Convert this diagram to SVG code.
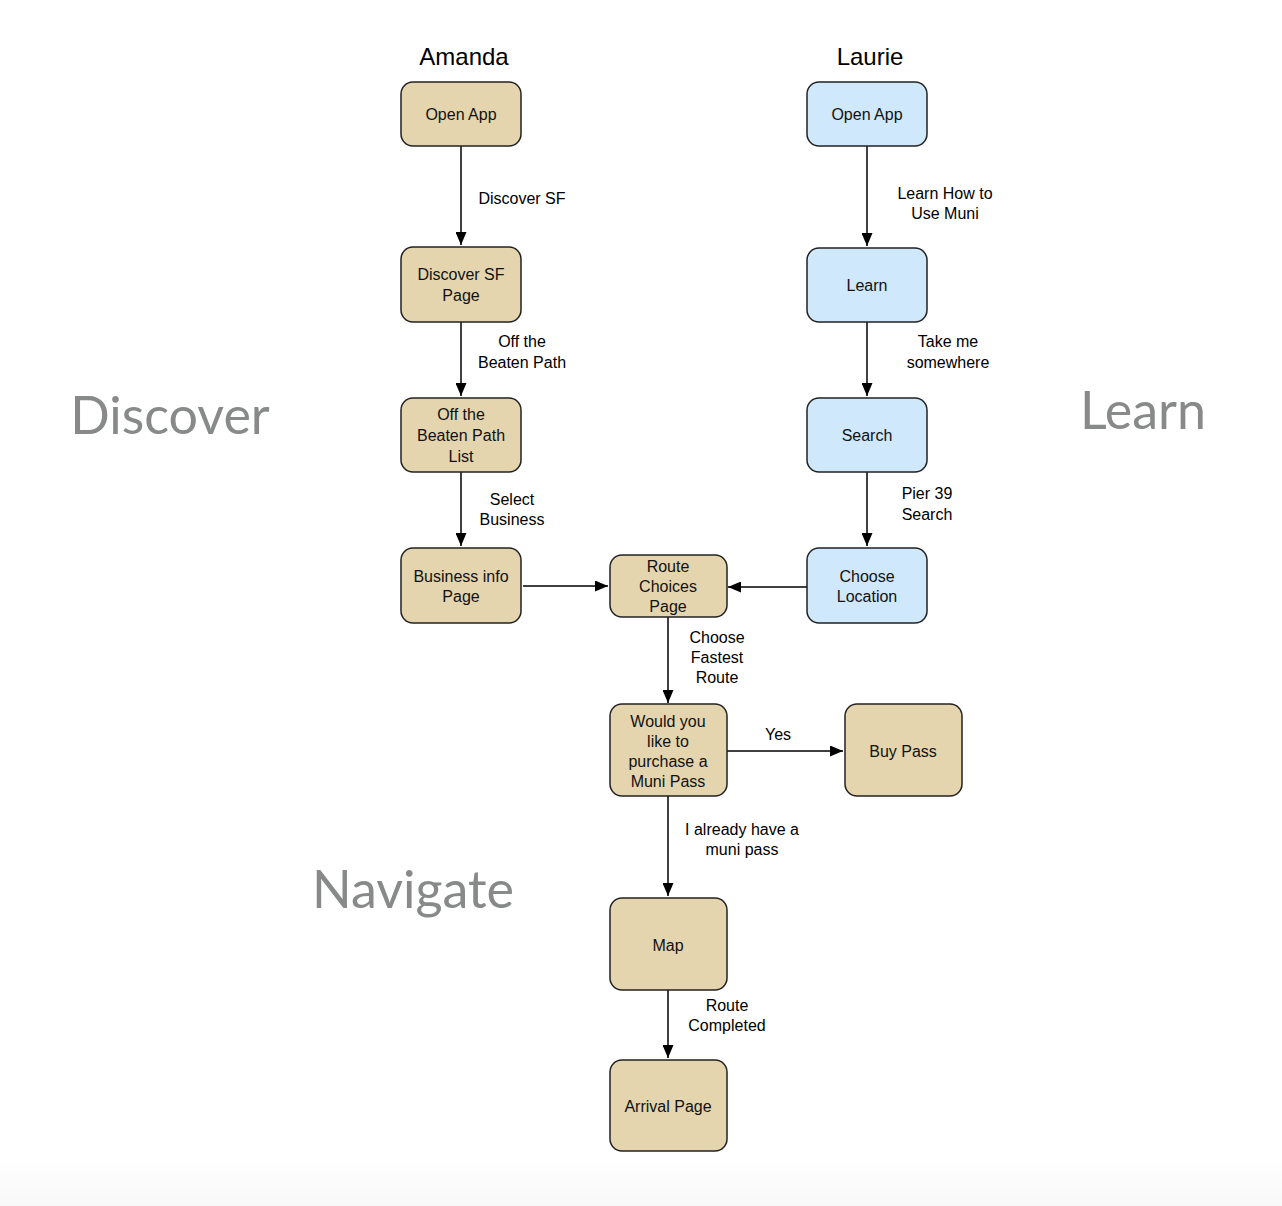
<svg xmlns="http://www.w3.org/2000/svg" width="1282" height="1206" viewBox="0 0 1282 1206">
<defs>
<linearGradient id="bg" x1="0" y1="0" x2="0" y2="1">
<stop offset="0" stop-color="#ffffff"/><stop offset="1" stop-color="#f8f8f8"/>
</linearGradient>
<marker id="ah" viewBox="0 0 13 11" refX="13" refY="5.5" markerWidth="13" markerHeight="11" markerUnits="userSpaceOnUse" orient="auto">
<path d="M0,0 L13,5.5 L0,11 Z" fill="#000"/>
</marker>
</defs>
<style>
.tan{fill:#e5d5ae;stroke:#222;stroke-width:1.5}
.blue{fill:#cfe8fc;stroke:#222;stroke-width:1.5}
.t{font-family:"Liberation Sans",Arial,sans-serif;font-size:16px;fill:#111;text-anchor:middle}
.l{font-family:"Liberation Sans",Arial,sans-serif;font-size:16px;fill:#000;text-anchor:middle}
.h{font-family:"Liberation Sans",Arial,sans-serif;font-size:24px;fill:#000;text-anchor:middle}
.big{font-family:Lato,"Open Sans",sans-serif;font-size:52px;fill:#888a8a;text-anchor:middle}
.c{stroke:#000;stroke-width:1.5;fill:none;marker-end:url(#ah)}
</style>
<rect x="0" y="0" width="1282" height="1206" fill="#ffffff"/>
<rect x="0" y="1160" width="1282" height="46" fill="url(#bg)"/>

<text class="h" x="464" y="65">Amanda</text>
<text class="h" x="870" y="65">Laurie</text>
<text class="big" x="170" y="434">Discover</text>
<text class="big" x="1143" y="429">Learn</text>
<text class="big" x="413" y="908">Navigate</text>

<g id="connectors">
<line class="c" x1="461" y1="146" x2="461" y2="245"/>
<line class="c" x1="461" y1="322" x2="461" y2="396"/>
<line class="c" x1="461" y1="472" x2="461" y2="546"/>
<line class="c" x1="867" y1="146" x2="867" y2="246"/>
<line class="c" x1="867" y1="322" x2="867" y2="396"/>
<line class="c" x1="867" y1="472" x2="867" y2="546"/>
<line class="c" x1="523" y1="586" x2="608" y2="586"/>
<line class="c" x1="807" y1="587" x2="728" y2="587"/>
<line class="c" x1="668" y1="617" x2="668" y2="703"/>
<line class="c" x1="727" y1="751" x2="843" y2="751"/>
<line class="c" x1="668" y1="796" x2="668" y2="896"/>
<line class="c" x1="668" y1="990" x2="668" y2="1058"/>
<text class="l" x="522" y="204">Discover SF</text>
<text class="l" x="522" y="347">Off the</text>
<text class="l" x="522" y="368">Beaten Path</text>
<text class="l" x="512" y="505">Select</text>
<text class="l" x="512" y="525">Business</text>
<text class="l" x="945" y="199">Learn How to</text>
<text class="l" x="945" y="219">Use Muni</text>
<text class="l" x="948" y="347">Take me</text>
<text class="l" x="948" y="368">somewhere</text>
<text class="l" x="927" y="499">Pier 39</text>
<text class="l" x="927" y="520">Search</text>
<text class="l" x="717" y="643">Choose</text>
<text class="l" x="717" y="663">Fastest</text>
<text class="l" x="717" y="683">Route</text>
<text class="l" x="778" y="740">Yes</text>
<text class="l" x="742" y="835">I already have a</text>
<text class="l" x="742" y="855">muni pass</text>
<text class="l" x="727" y="1011">Route</text>
<text class="l" x="727" y="1031">Completed</text>
</g>

<g id="a-open"><rect class="tan" x="401" y="82" width="120" height="64" rx="12"/><text class="t" x="461" y="120">Open App</text></g>
<g id="a-discover"><rect class="tan" x="401" y="247" width="120" height="75" rx="12"/><text class="t" x="461" y="280">Discover SF</text><text class="t" x="461" y="301">Page</text></g>
<g id="a-offpath"><rect class="tan" x="401" y="398" width="120" height="74" rx="12"/><text class="t" x="461" y="420">Off the</text><text class="t" x="461" y="441">Beaten Path</text><text class="t" x="461" y="462">List</text></g>
<g id="a-business"><rect class="tan" x="401" y="548" width="120" height="75" rx="12"/><text class="t" x="461" y="582">Business info</text><text class="t" x="461" y="602">Page</text></g>

<g id="l-open"><rect class="blue" x="807" y="82" width="120" height="64" rx="12"/><text class="t" x="867" y="120">Open App</text></g>
<g id="l-learn"><rect class="blue" x="807" y="248" width="120" height="74" rx="12"/><text class="t" x="867" y="291">Learn</text></g>
<g id="l-search"><rect class="blue" x="807" y="398" width="120" height="74" rx="12"/><text class="t" x="867" y="441">Search</text></g>
<g id="l-choose"><rect class="blue" x="807" y="548" width="120" height="75" rx="12"/><text class="t" x="867" y="582">Choose</text><text class="t" x="867" y="602">Location</text></g>

<g id="route"><rect class="tan" x="610" y="555" width="117" height="62" rx="12"/><text class="t" x="668" y="572">Route</text><text class="t" x="668" y="592">Choices</text><text class="t" x="668" y="612">Page</text></g>
<g id="would"><rect class="tan" x="610" y="704" width="117" height="92" rx="12"/><text class="t" x="668" y="727">Would you</text><text class="t" x="668" y="747">like to</text><text class="t" x="668" y="767">purchase a</text><text class="t" x="668" y="787">Muni Pass</text></g>
<g id="buy"><rect class="tan" x="845" y="704" width="117" height="92" rx="12"/><text class="t" x="903" y="757">Buy Pass</text></g>
<g id="map"><rect class="tan" x="610" y="898" width="117" height="92" rx="12"/><text class="t" x="668" y="951">Map</text></g>
<g id="arrival"><rect class="tan" x="610" y="1060" width="117" height="91" rx="12"/><text class="t" x="668" y="1112">Arrival Page</text></g>
</svg>
